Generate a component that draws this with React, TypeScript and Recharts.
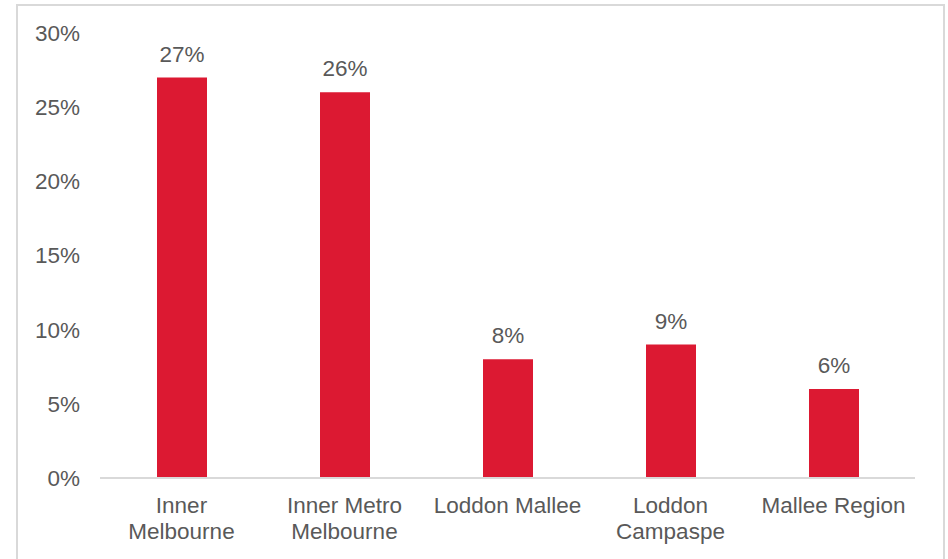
import React from "react";
import { BarChart, Bar, XAxis, YAxis, LabelList } from "recharts";

const categories = ["Inner\nMelbourne", "Inner Metro\nMelbourne", "Loddon Mallee", "Loddon\nCampaspe", "Mallee Region"];
const values = [27, 26, 8, 9, 6];
const yTicks = [0, 5, 10, 15, 20, 25, 30];

const data = categories.map((c, i) => ({ name: c, value: values[i] }));

const FONT = "'Liberation Sans', Arial, sans-serif";
const TEXT = "#595959";
const FS = 22.5;

const XTick = (props: any) => {
  const { x, y, payload } = props;
  const lines = String(payload.value).split("\n");
  return (
    <g>
      {lines.map((l: string, i: number) => (
        <text key={i} x={x} y={y + 35 + i * 26} textAnchor="middle" fill={TEXT} fontSize={FS} fontFamily={FONT}>
          {l}
        </text>
      ))}
    </g>
  );
};

export default function App() {
  return (
    <div style={{ position: "absolute", left: 0, top: 0, width: 948, height: 559, overflow: "hidden", background: "#fff" }}>
      <div style={{ position: "absolute", left: 16, top: 4, width: 925, height: 600, border: "2px solid #d9d9d9" }} />
      <div style={{ position: "absolute", left: 0, top: 0 }}>
        <BarChart width={948} height={559} data={data} margin={{ top: 33, right: 33, left: 0, bottom: 0 }}>
          <XAxis
            dataKey="name"
            height={81}
            interval={0}
            tickLine={false}
            tickSize={0}
            tickMargin={0}
            axisLine={{ stroke: "#d9d9d9", strokeWidth: 2 }}
            tick={<XTick />}
          />
          <YAxis
            width={100}
            domain={[0, 30]}
            ticks={yTicks}
            tickFormatter={(v: number) => `${v}%`}
            axisLine={false}
            tickLine={false}
            tickSize={0}
            tickMargin={20}
            tick={{ fill: TEXT, fontSize: FS, fontFamily: FONT }}
          />
          <Bar dataKey="value" fill="#dc1932" barSize={50} isAnimationActive={false}>
            <LabelList
              dataKey="value"
              position="top"
              offset={16}
              formatter={(v: number) => `${v}%`}
              style={{ fill: TEXT, fontSize: FS, fontFamily: FONT }}
            />
          </Bar>
        </BarChart>
      </div>
    </div>
  );
}
